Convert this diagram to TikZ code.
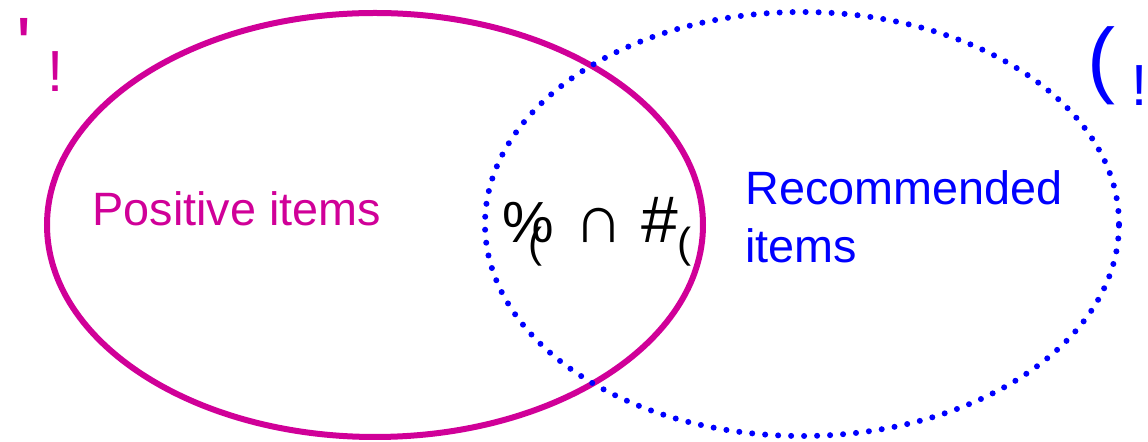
\documentclass[tikz,border=0pt]{standalone}
\usepackage{fontspec}
\setmainfont{Liberation Sans}
\usetikzlibrary{positioning}
\definecolor{posmag}{RGB}{208,0,152}
\definecolor{recblue}{RGB}{0,0,255}
\tikzset{
  setring/.style  = {line width=3pt},
  posset/.style   = {setring, draw=posmag},
  recset/.style   = {setring, draw=recblue, line cap=round,
                     dash pattern=on 0pt off 6.5pt},
  setlabel/.style = {inner sep=0pt, align=left,
                     font=\fontsize{23.4}{29}\selectfont},
  setmark/.style  = {inner sep=0pt, anchor=base west,
                     font=\fontsize{42}{42}\selectfont},
}
\newcommand{\marksub}[1]{\raisebox{-9pt}{\fontsize{29}{29}\selectfont #1}}
\newcommand{\midsub}[1]{\raisebox{-7.5pt}{\fontsize{21}{21}\selectfont #1}}

\begin{document}
\begin{tikzpicture}[x=0.5pt, y=-0.5pt]
  \useasboundingbox (0,0) rectangle (1148,442);

  % the two sets
  \draw[posset] (375,225) ellipse [x radius=164pt, y radius=106pt];
  \draw[recset] (802,224) ellipse [x radius=158.5pt, y radius=106pt];

  % set names
  \node[setlabel, text=posmag, anchor=base west] (poslabel) at (92,226)
    {Positive items};
  \node[setlabel, text=recblue, anchor=north west] (reclabel) at (745,170)
    {Recommended\\items};

  % symbols
  \node[setmark, text=posmag, font=\fontsize{40}{40}\selectfont] (posmark)
    at (16,74) {\textquotesingle\kern8pt\marksub{!}};
  \node[setmark, text=recblue] (recmark) at (1087,88)
    {(\kern8pt\marksub{!}};
  \node[inner sep=0pt, anchor=base west, font=\fontsize{29}{29}\selectfont]
    (both) at (502,243)
    {\%\kern-12.5pt\midsub{(}\kern16pt{\fontsize{34}{34}\selectfont ∩}%
     \kern9pt{\fontsize{33}{33}\selectfont\#}\kern-0.5pt\midsub{(}};
\end{tikzpicture}
\end{document}
